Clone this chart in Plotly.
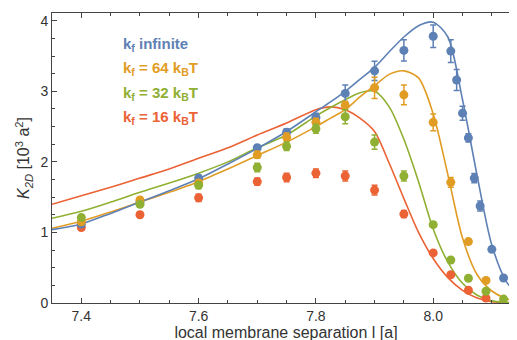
import plotly.graph_objects as go

# Paleta (estilo Mathematica)
BLUE = "#5E81B5"
ORANGE = "#E19C24"
GREEN = "#8FB032"
RED = "#EB6235"

# Pontos de simulação
x_inf = [7.4, 7.5, 7.6, 7.7, 7.75, 7.8, 7.85, 7.9, 7.95, 8.0, 8.03, 8.04, 8.05, 8.06, 8.07, 8.08, 8.1, 8.12, 8.14]
y_inf = [1.12, 1.43, 1.77, 2.20, 2.42, 2.63, 2.97, 3.29, 3.58, 3.78, 3.57, 3.16, 2.69, 2.34, 1.77, 1.375, 0.76, 0.355, 0.155]
e_inf = [0.03, 0.03, 0.04, 0.04, 0.05, 0.06, 0.12, 0.135, 0.15, 0.16, 0.16, 0.15, 0.1, 0.06, 0.065, 0.07, 0.03, 0.03, 0.03]

x_64 = [7.4, 7.5, 7.6, 7.7, 7.75, 7.8, 7.85, 7.9, 7.95, 8.0, 8.03, 8.06, 8.09]
y_64 = [1.15, 1.46, 1.70, 2.10, 2.35, 2.56, 2.80, 3.05, 2.95, 2.56, 1.71, 0.87, 0.32]
e_64 = [0.03, 0.04, 0.04, 0.05, 0.06, 0.06, 0.06, 0.15, 0.14, 0.12, 0.07, 0.03, 0.03]

x_32 = [7.4, 7.5, 7.6, 7.7, 7.75, 7.8, 7.85, 7.9, 7.95, 8.0, 8.03, 8.06, 8.09, 8.12]
y_32 = [1.21, 1.40, 1.67, 1.92, 2.22, 2.47, 2.64, 2.28, 1.80, 1.11, 0.61, 0.35, 0.166, 0.055]
e_32 = [0.04, 0.04, 0.05, 0.06, 0.06, 0.065, 0.1, 0.1, 0.07, 0.03, 0.03, 0.03, 0.03, 0.03]

x_16 = [7.4, 7.5, 7.6, 7.7, 7.75, 7.8, 7.85, 7.9, 7.95, 8.0, 8.03, 8.06, 8.09]
y_16 = [1.07, 1.25, 1.49, 1.72, 1.78, 1.84, 1.80, 1.60, 1.26, 0.71, 0.40, 0.18, 0.07]
e_16 = [0.04, 0.04, 0.05, 0.05, 0.06, 0.06, 0.07, 0.07, 0.05, 0.03, 0.03, 0.03, 0.03]

# Curvas teóricas
x_fit = [7.35, 7.4, 7.45, 7.5, 7.55, 7.6, 7.65, 7.7, 7.75, 7.8, 7.825, 7.85, 7.875, 7.9,
         7.925, 7.95, 7.975, 8.0, 8.025, 8.05, 8.075, 8.1, 8.125, 8.15]
fit_inf = [1.04, 1.12, 1.27, 1.43, 1.59, 1.76, 1.97, 2.19, 2.43, 2.71, 2.85, 3.0, 3.17, 3.34,
           3.56, 3.77, 3.93, 3.98, 3.77, 2.88, 1.8, 0.82, 0.3, 0.07]
fit_64 = [1.06, 1.16, 1.29, 1.43, 1.57, 1.72, 1.9, 2.09, 2.28, 2.5, 2.62, 2.74, 2.92, 3.08,
          3.24, 3.29, 3.19, 2.68, 1.82, 0.92, 0.4, 0.17, 0.06, 0.02]
fit_32 = [1.20, 1.30, 1.43, 1.57, 1.70, 1.84, 2.0, 2.2, 2.38, 2.65, 2.77, 2.88, 2.98, 3.0,
          2.78, 2.32, 1.72, 1.05, 0.58, 0.28, 0.11, 0.03, 0.01, 0.0]
fit_16 = [1.40, 1.52, 1.64, 1.77, 1.90, 2.05, 2.2, 2.38, 2.55, 2.74, 2.78, 2.74, 2.62, 2.43,
          1.98, 1.48, 1.0, 0.63, 0.36, 0.18, 0.07, 0.02, 0.005, 0.0]

legend_labels = [
    ("k<sub>f</sub> infinite", BLUE),
    ("k<sub>f</sub> = 64 k<sub>B</sub>T", ORANGE),
    ("k<sub>f</sub> = 32 k<sub>B</sub>T", GREEN),
    ("k<sub>f</sub> = 16 k<sub>B</sub>T", RED),
]

fig = go.Figure()

# Linhas primeiro, pontos por cima
for yv, col in [(fit_16, RED), (fit_32, GREEN), (fit_64, ORANGE), (fit_inf, BLUE)]:
    fig.add_trace(go.Scatter(x=x_fit, y=yv, mode="lines", line=dict(color=col, width=1.6, shape="spline", smoothing=0.8),
                             showlegend=False, hoverinfo="skip"))

for xv, yv, ev, col in [(x_16, y_16, e_16, RED), (x_inf, y_inf, e_inf, BLUE),
                        (x_64, y_64, e_64, ORANGE), (x_32, y_32, e_32, GREEN)]:
    fig.add_trace(go.Scatter(x=xv, y=yv, mode="markers", marker=dict(color=col, size=9),
                             error_y=dict(type="data", array=ev, color=col, thickness=1.5, width=3),
                             showlegend=False))

for i, (txt, col) in enumerate(legend_labels):
    fig.add_annotation(xref="paper", yref="paper", x=0.147, y=0.893 - i * 0.085, xanchor="left", yanchor="middle",
                       text="<b>" + txt + "</b>", showarrow=False, font=dict(size=15, color=col))

axis_common = dict(showline=True, linecolor="#444", linewidth=1, mirror="ticks", ticks="inside", ticklen=5,
                   tickcolor="#444", showgrid=False, zeroline=False, automargin=False,
                   tickfont=dict(size=14, color="#333"))

fig.update_xaxes(range=[7.35, 8.148], tickvals=[7.4, 7.6, 7.8, 8.0], ticktext=["7.4", "7.6", "7.8", "8.0"],
                 minor=dict(dtick=0.05, tick0=7.35, ticks="inside", ticklen=3, tickcolor="#444"),
                 title=dict(text="local membrane separation l [a]", font=dict(size=16, color="#333"), standoff=2),
                 **axis_common)
fig.update_yaxes(range=[0, 4.11], dtick=1, minor=dict(dtick=0.25, ticks="inside", ticklen=3, tickcolor="#444"),
                 title=dict(text="<i>K</i><sub><i>2D</i></sub> [10<sup>3</sup> a<sup>2</sup>]",
                            font=dict(size=16, color="#333"), standoff=6),
                 **axis_common)

fig.update_layout(width=517, height=340, margin=dict(l=44, r=5, t=5, b=45), plot_bgcolor="white",
                  paper_bgcolor="white", font=dict(family="Liberation Sans, Arial, sans-serif"))

fig.write_html("out.html")
